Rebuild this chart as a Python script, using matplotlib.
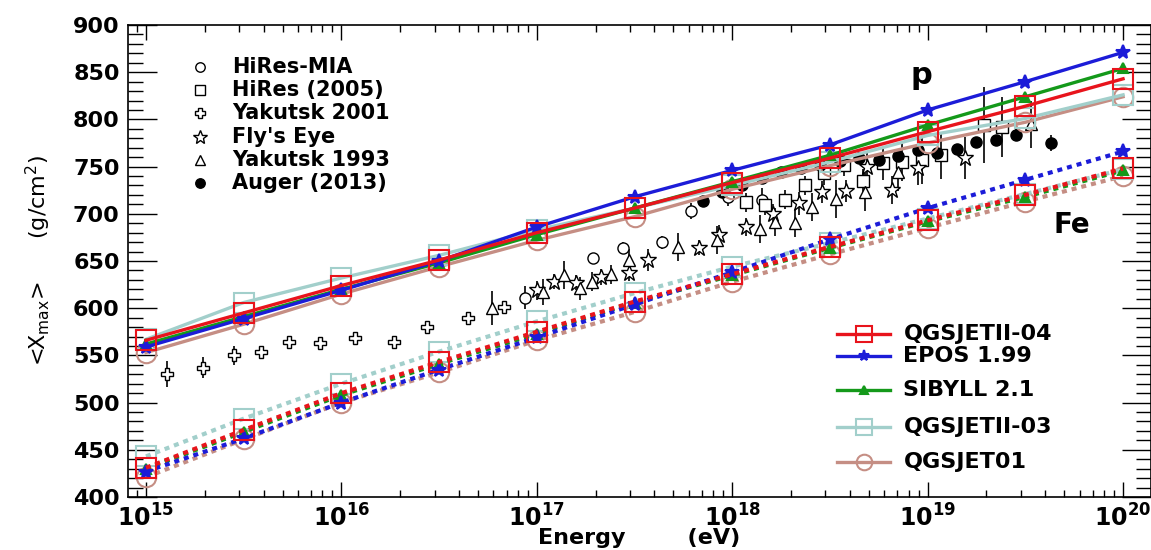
# <Xmax> vs energy: air shower data against proton / iron model predictions

import numpy as np
import matplotlib
matplotlib.use('Agg')
import matplotlib.pyplot as plt
from matplotlib.ticker import LogLocator, NullFormatter, MultipleLocator, FixedLocator

plt.rcParams['font.family'] = ['DejaVu Sans']
plt.rcParams['mathtext.fontset'] = 'dejavusans'

# model curves, one point every half decade (log10 E/eV)
lg_model = [15, 15.5, 16, 16.5, 17, 17.5, 18, 18.5, 19, 19.5, 20]

qgs4_p = [566, 595, 624, 651, 680, 706, 733, 759, 787, 814, 843]
epos_p = [559, 589, 619, 650, 686, 718, 746, 773, 810, 840, 871]
sib_p = [562, 591, 620, 648, 678, 706, 734, 762, 794, 824, 854]
qgs3_p = [567, 606, 632, 656, 683, 706, 730, 755, 783, 801, 826]
qgs1_p = [553, 583, 615, 644, 672, 697, 726, 751, 775, 797, 824]

qgs4_fe = [431, 471, 510, 543, 575, 607, 636, 665, 693, 720, 748]
epos_fe = [427, 462, 500, 535, 569, 604, 638, 673, 706, 736, 766]
sib_fe = [430, 469, 508, 541, 573, 606, 635, 664, 692, 718, 746]
qgs3_fe = [443, 483, 520, 554, 586, 616, 644, 669, 695, 721, 747]
qgs1_fe = [421, 461, 500, 532, 566, 596, 628, 657, 685, 713, 740]

# measurements
mia_lg = [16.94, 17.29, 17.44, 17.64, 17.79, 17.98, 18.15]
mia_x = [611, 653, 664, 670, 703, 718, 715]
mia_err = [12, 6, 6, 7, 8, 10, 12]

hires_lg = [18.07, 18.17, 18.27, 18.37, 18.47, 18.57, 18.67, 18.77, 18.87, 18.97, 19.07, 19.29, 19.38]
hires_x = [712, 709, 715, 730, 743, 752, 735, 754, 755, 757, 762, 794, 792]
hires_err = [10, 10, 10, 10, 12, 12, 12, 18, 20, 25, 25, 40, 32]

yak01_lg = [15.11, 15.29, 15.45, 15.59, 15.73, 15.89, 16.07, 16.27, 16.44, 16.65, 16.83]
yak01_x = [530, 537, 550, 554, 564, 563, 568, 564, 580, 590, 601]
yak01_err = [14, 11, 10, 5, 5, 5, 5, 5, 4, 4, 4]

fly_lg = [17.0, 17.09, 17.2, 17.33, 17.47, 17.57, 17.83, 17.93, 18.07, 18.21, 18.34, 18.46, 18.58, 18.69, 18.82, 18.95, 19.19]
fly_x = [619, 628, 627, 633, 637, 651, 664, 678, 686, 700, 711, 723, 724, 750, 725, 748, 759]
fly_err = [10, 8, 8, 8, 8, 12, 8, 10, 10, 10, 12, 12, 12, 15, 15, 18, 22]

yak93_lg = [16.77, 17.03, 17.14, 17.22, 17.28, 17.38, 17.47, 17.72, 17.92, 18.14, 18.22, 18.32, 18.41, 18.53, 18.68, 18.85, 19.53]
yak93_x = [600, 617, 635, 621, 628, 636, 651, 665, 672, 684, 691, 690, 707, 716, 723, 744, 795]
yak93_err = [18, 14, 15, 12, 10, 10, 12, 15, 15, 15, 15, 15, 15, 20, 20, 20, 25]

auger_lg = [17.85, 17.95, 18.05, 18.15, 18.25, 18.35, 18.45, 18.55, 18.65, 18.75, 18.85, 18.95, 19.05, 19.15, 19.25, 19.35, 19.45, 19.63]
auger_x = [714, 723, 730, 738, 744, 749, 752, 756, 759, 757, 761, 768, 764, 769, 776, 778, 784, 775]
auger_err = [3, 3, 3, 3, 3, 3, 3, 3, 3, 3, 4, 4, 4, 5, 5, 6, 6, 8]

RED = '#e8141c'
BLUE = '#1c1cd8'
GREEN = '#14991a'
TEAL = '#a2cfcb'
TAN = '#c58e84'

fig = plt.figure(figsize=(11.51, 5.5), dpi=100)
ax = fig.add_axes([128 / 1151, 53 / 550, 1023 / 1151, 472 / 550])

E = lambda lg: 10 ** np.asarray(lg, dtype=float)

# data points (drawn under the model lines)
data = [
    (mia_lg, mia_x, mia_err, 'o', 'white', 8, 'HiRes-MIA'),
    (hires_lg, hires_x, hires_err, 's', 'white', 8, 'HiRes (2005)'),
    (yak01_lg, yak01_x, yak01_err, 'P', 'white', 9, 'Yakutsk 2001'),
    (fly_lg, fly_x, fly_err, '*', 'white', 12, "Fly's Eye"),
    (yak93_lg, yak93_x, yak93_err, '^', 'white', 9, 'Yakutsk 1993'),
    (auger_lg, auger_x, auger_err, 'o', 'black', 8, 'Auger (2013)'),
]
for lg, xm, err, mk, fc, ms, lab in data:
    ax.errorbar(E(lg), xm, yerr=err, fmt=mk, mfc=fc, mec='black', ms=ms,
                mew=1.0, ecolor='black', elinewidth=1.2, capsize=0, zorder=2)

# model predictions: solid = proton, dotted = iron
models = [
    (qgs1_p, qgs1_fe, TAN, 'o', 'none', 14, 'QGSJET01'),
    (qgs3_p, qgs3_fe, TEAL, 's', 'none', 14, 'QGSJETII-03'),
    (sib_p, sib_fe, GREEN, '^', GREEN, 7, 'SIBYLL 2.1'),
    (epos_p, epos_fe, BLUE, '*', BLUE, 10, 'EPOS 1.99'),
    (qgs4_p, qgs4_fe, RED, 's', 'none', 14, 'QGSJETII-04'),
]
for p, fe, col, mk, fc, ms, lab in models:
    ax.plot(E(lg_model), p, '-', color=col, lw=2.4, marker=mk, mfc=fc,
            mec=col, ms=ms, mew=1.5, zorder=3)
    ax.plot(E(lg_model), fe, color=col, lw=3, ls=(0, (1.2, 1.2)), marker=mk,
            mfc=fc, mec=col, ms=ms, mew=1.5, zorder=3)

ax.set_xscale('log')
ax.set_xlim(10 ** 14.908, 10 ** 20.143)
ax.set_ylim(400, 900)

# ROOT-like ticks on all four sides
decades = [15, 16, 17, 18, 19, 20]
ax.xaxis.set_major_locator(FixedLocator(E(decades)))
ax.set_xticklabels([r'$\mathbf{10^{%d}}$' % d for d in decades])
ax.xaxis.set_minor_locator(LogLocator(base=10, subs=np.arange(2, 10)))
ax.xaxis.set_minor_formatter(NullFormatter())
ax.yaxis.set_major_locator(MultipleLocator(50))
ax.yaxis.set_minor_locator(MultipleLocator(10))

ax.tick_params(which='both', direction='in', top=True, right=True, width=1.0)
ax.tick_params(axis='x', which='major', length=11, labelsize=17, pad=5)
ax.tick_params(axis='x', which='minor', length=5)
ax.tick_params(axis='y', which='major', length=21, labelsize=16, pad=6)
ax.tick_params(axis='y', which='minor', length=11)
for t in ax.get_yticklabels():
    t.set_fontweight('bold')
for s in ax.spines.values():
    s.set_linewidth(1.2)

ax.set_xlabel('Energy        (eV)', fontsize=16, fontweight='bold', labelpad=-2)
ax.set_ylabel(r'<X$_{\rm max}$>      (g/cm$^{2}$)', fontsize=16, labelpad=14)

ax.text(0.776, 0.894, 'p', transform=ax.transAxes, fontsize=22,
        fontweight='bold', ha='center', va='center')
ax.text(0.923, 0.576, 'Fe', transform=ax.transAxes, fontsize=20,
        fontweight='bold', ha='center', va='center')

# legend for the measurements (marker only)
rows_data = [0.911, 0.862, 0.814, 0.763, 0.714, 0.665]
for (lg, xm, err, mk, fc, ms, lab), ry in zip(data, rows_data):
    ax.plot([0.0704], [ry], mk, mfc=fc, mec='black', ms=ms * 0.85, mew=1.0,
            transform=ax.transAxes, clip_on=False)
    ax.text(0.1017, ry, lab, transform=ax.transAxes, fontsize=15,
            fontweight='bold', va='center')

# legend for the models (line + marker)
rows_model = {'QGSJETII-04': 0.345, 'EPOS 1.99': 0.299, 'SIBYLL 2.1': 0.227,
              'QGSJETII-03': 0.148, 'QGSJET01': 0.074}
for p, fe, col, mk, fc, ms, lab in models:
    ry = rows_model[lab]
    ax.plot([0.693, 0.745], [ry, ry], '-', color=col, lw=2.4,
            transform=ax.transAxes)
    ax.plot([0.719], [ry], mk, mfc=fc, mec=col, ms=ms * 0.8, mew=1.5,
            transform=ax.transAxes)
    ax.text(0.758, ry, lab, transform=ax.transAxes, fontsize=16,
            fontweight='bold', va='center')

fig.savefig('out.png', dpi=100)
